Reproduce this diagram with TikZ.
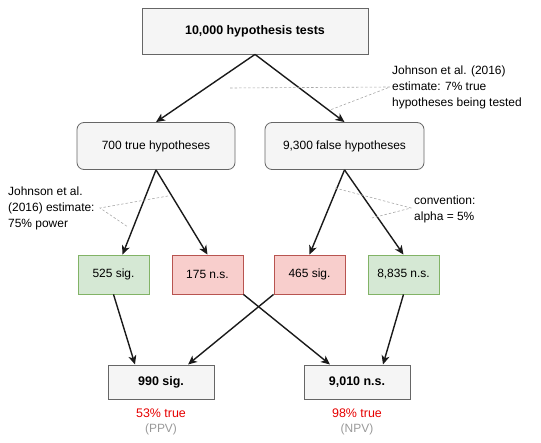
\documentclass[tikz,border=0pt]{standalone}
\usepackage{fontspec}
\setmainfont{Liberation Sans}
\usetikzlibrary{arrows.meta}
\definecolor{boxgray}{HTML}{F5F5F5}
\definecolor{bordergray}{HTML}{666666}
\definecolor{gfill}{HTML}{D5E8D4}
\definecolor{gborder}{HTML}{82B366}
\definecolor{rfill}{HTML}{F8CECC}
\definecolor{rborder}{HTML}{B85450}
\definecolor{arrowc}{HTML}{1A1A1A}
\definecolor{dashc}{HTML}{A8A8A8}
\definecolor{redtext}{HTML}{E60000}
\definecolor{graytext}{HTML}{999999}
\begin{document}
\begin{tikzpicture}[x=1bp,y=-1bp,
  every node/.style={font=\fontsize{12}{14.5}\selectfont, inner sep=0pt},
  plainbox/.style={draw=bordergray, fill=boxgray, line width=0.8bp},
  roundbox/.style={plainbox, rounded corners=7bp, minimum width=158bp, minimum height=47bp},
  greenbox/.style={draw=gborder, fill=gfill, line width=0.8bp, minimum width=71bp, minimum height=39bp},
  redbox/.style={draw=rborder, fill=rfill, line width=0.8bp, minimum width=71bp, minimum height=39bp},
  resbox/.style={plainbox, line width=1bp, minimum width=106bp, minimum height=34bp, font=\fontsize{12.5}{15}\selectfont\bfseries},
  conn/.style={draw=arrowc, line width=1.4bp, -{Stealth[length=9bp,width=8bp,inset=2.5bp]}},
  note/.style={draw=dashc, line width=0.6bp, dash pattern=on 2.5bp off 2bp},
  annot/.style={align=left, anchor=west, font=\fontsize{12}{16}\selectfont}
]
\useasboundingbox (0,0) rectangle (541,443);

\node[plainbox, minimum width=226bp, minimum height=46bp, font=\fontsize{12.5}{15}\selectfont\bfseries] (top) at (255,31) {10,000 hypothesis tests};

\node[roundbox] (tru) at (156,146) {700 true hypotheses};
\node[roundbox, minimum width=159bp] (fal) at (344.5,146) {9,300 false hypotheses};

\node[greenbox] (s1) at (113.5,274.5) {525 sig.};
\node[redbox] (n1) at (207.5,274.5) {175 n.s.};
\node[redbox] (s2) at (309.5,274.5) {465 sig.};
\node[greenbox] (n2) at (403.5,274.5) {8,835 n.s.};

\node[resbox] (sig) at (161,382) {990 sig.};
\node[resbox] (ns) at (357,382) {9,010 n.s.};

\node[text=redtext, font=\fontsize{12.5}{15}\selectfont] (ppv1) at (161,413) {53\% true};
\node[text=graytext] (ppv2) at (161,429) {(PPV)};
\node[text=redtext, font=\fontsize{12.5}{15}\selectfont] (npv1) at (357,413) {98\% true};
\node[text=graytext] (npv2) at (357,429) {(NPV)};

% arrows
\draw[conn] (top.south) -- (tru.north);
\draw[conn] (top.south) -- (fal.north);
\draw[conn] (tru.south) -- ([xshift=9bp]s1.north);
\draw[conn] (tru.south) -- (n1.north);
\draw[conn] (fal.south) -- (s2.north);
\draw[conn] (fal.south) -- (n2.north);
\draw[conn] (s1.south) -- ([xshift=-26bp]sig.north);
\draw[conn] (s2.south west) -- ([xshift=27bp]sig.north);
\draw[conn] (n1.south east) -- ([xshift=-27bp]ns.north);
\draw[conn] (n2.south) -- ([xshift=26bp]ns.north);

% annotations
\node[annot] (a1) at (392,87) {Johnson et al. (2016)\\estimate: 7\% true\\hypotheses being tested};
\node[annot] (a2) at (8,208) {Johnson et al.\\(2016) estimate:\\75\% power};
\node[annot] (a3) at (414,209) {convention:\\alpha = 5\%};

\coordinate (a1p) at (390,87);
\coordinate (a1u) at (230,88);
\coordinate (a1l) at (330,110);
\coordinate (a2p) at (100,208);
\coordinate (a2u) at (168,196);
\coordinate (a2l) at (128,227);
\coordinate (a3p) at (411,208);
\coordinate (a3u) at (335,188);
\coordinate (a3l) at (372,218);
\draw[note] (a1u) -- (a1p) -- (a1l);
\draw[note] (a2u) -- (a2p) -- (a2l);
\draw[note] (a3u) -- (a3p) -- (a3l);
\end{tikzpicture}
\end{document}
